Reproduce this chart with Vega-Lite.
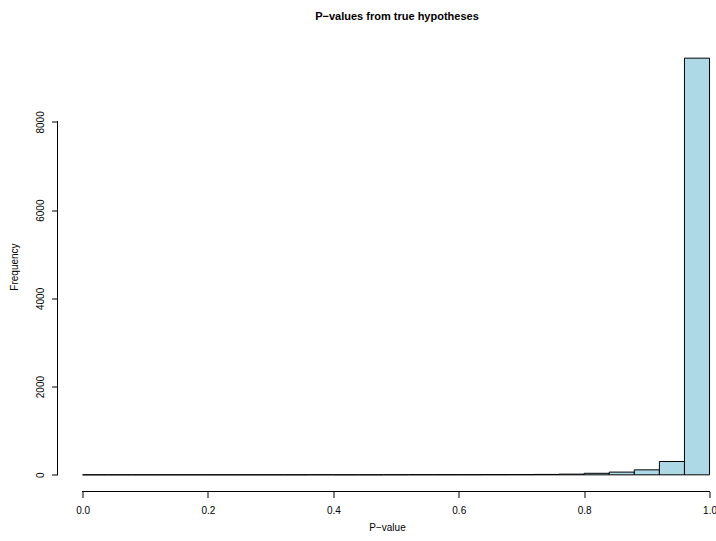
{
  "$schema": "https://vega.github.io/schema/vega-lite/v6.json",
  "autosize": "none",
  "width": 659,
  "height": 450,
  "padding": {"left": 57.5, "top": 41.5, "right": 0, "bottom": 49.5},
  "background": "white",
  "config": {
    "view": {"stroke": null},
    "font": "Liberation Sans",
    "axis": {"labelFont": "Liberation Sans", "titleFont": "Liberation Sans", "labelColor": "black", "titleColor": "black", "tickColor": "black", "labelFontSize": 10, "titleFontSize": 10, "titleFontWeight": "normal", "grid": false, "domain": false, "tickSize": 6, "labelOverlap": false, "labelFlush": false, "labelBound": false}
  },
  "title": {"text": "P−values from true hypotheses", "font": "Liberation Sans", "fontSize": 11, "fontWeight": "bold", "color": "black", "anchor": "middle", "dx": 10, "offset": 11, "baseline": "alphabetic"},
  "data": {"values": [
    {"bin_start": 0.00, "bin_end": 0.04, "count": 0},
    {"bin_start": 0.04, "bin_end": 0.08, "count": 0},
    {"bin_start": 0.08, "bin_end": 0.12, "count": 0},
    {"bin_start": 0.12, "bin_end": 0.16, "count": 0},
    {"bin_start": 0.16, "bin_end": 0.20, "count": 0},
    {"bin_start": 0.20, "bin_end": 0.24, "count": 0},
    {"bin_start": 0.24, "bin_end": 0.28, "count": 0},
    {"bin_start": 0.28, "bin_end": 0.32, "count": 0},
    {"bin_start": 0.32, "bin_end": 0.36, "count": 0},
    {"bin_start": 0.36, "bin_end": 0.40, "count": 2},
    {"bin_start": 0.40, "bin_end": 0.44, "count": 0},
    {"bin_start": 0.44, "bin_end": 0.48, "count": 0},
    {"bin_start": 0.48, "bin_end": 0.52, "count": 2},
    {"bin_start": 0.52, "bin_end": 0.56, "count": 3},
    {"bin_start": 0.56, "bin_end": 0.60, "count": 3},
    {"bin_start": 0.60, "bin_end": 0.64, "count": 4},
    {"bin_start": 0.64, "bin_end": 0.68, "count": 5},
    {"bin_start": 0.68, "bin_end": 0.72, "count": 6},
    {"bin_start": 0.72, "bin_end": 0.76, "count": 9},
    {"bin_start": 0.76, "bin_end": 0.80, "count": 16},
    {"bin_start": 0.80, "bin_end": 0.84, "count": 35},
    {"bin_start": 0.84, "bin_end": 0.88, "count": 62},
    {"bin_start": 0.88, "bin_end": 0.92, "count": 113},
    {"bin_start": 0.92, "bin_end": 0.96, "count": 302},
    {"bin_start": 0.96, "bin_end": 1.00, "count": 9445}
  ]},
  "layer": [
    {
      "mark": {"type": "bar", "fill": "#ADD8E6", "stroke": "black", "strokeWidth": 1},
      "encoding": {
        "x": {"field": "bin_start", "type": "quantitative",
          "scale": {"domain": [-0.04, 1.0111], "nice": false, "zero": false},
          "axis": {"values": [0, 0.2, 0.4, 0.6, 0.8, 1.0], "format": ".1f", "title": "P−value", "labelPadding": 8, "titlePadding": 7}},
        "x2": {"field": "bin_end"},
        "y": {"field": "count", "type": "quantitative",
          "scale": {"domain": [-377.8, 9822.8], "nice": false, "zero": false},
          "axis": {"values": [0, 2000, 4000, 6000, 8000], "format": "d", "title": "Frequency", "labelAngle": -90, "labelAlign": "center", "labelBaseline": "alphabetic", "labelPadding": 8, "titlePadding": 16}},
        "y2": {"datum": 0}
      }
    },
    {
      "mark": {"type": "rule", "color": "black", "strokeWidth": 1},
      "encoding": {
        "x": {"datum": -0.04, "type": "quantitative"},
        "y": {"datum": 0, "type": "quantitative"},
        "y2": {"datum": 8000}
      }
    },
    {
      "mark": {"type": "rule", "color": "black", "strokeWidth": 1},
      "encoding": {
        "y": {"datum": -377.8, "type": "quantitative"},
        "x": {"datum": 0, "type": "quantitative"},
        "x2": {"datum": 1}
      }
    }
  ]
}
